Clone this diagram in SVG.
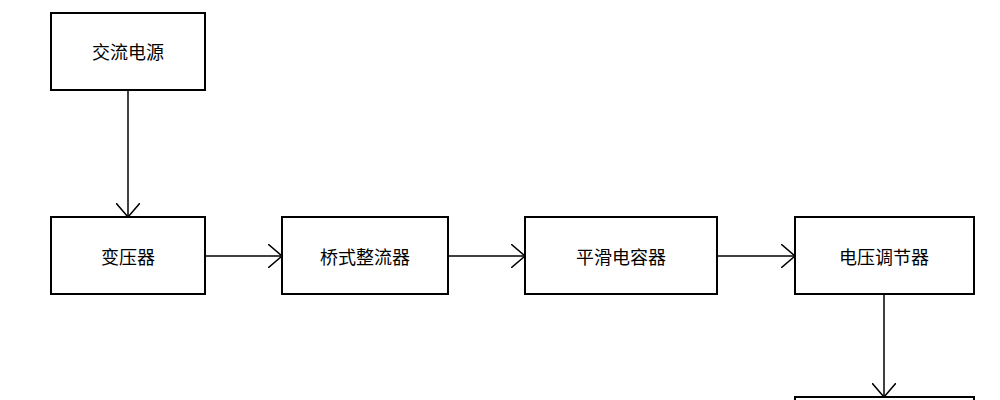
<svg xmlns="http://www.w3.org/2000/svg" width="1000" height="400" viewBox="0 0 1000 400">
<style>
.b{fill:#fff;stroke:#000;stroke-width:2}
.t{font-family:"Noto Sans CJK SC","Liberation Sans",sans-serif;font-size:18px;text-anchor:middle;dominant-baseline:central;fill:#000}
.c{stroke:#000;stroke-width:1.5;fill:none}
</style>
<defs><marker id="a" viewBox="0 0 14 24" refX="14" refY="12" markerWidth="14" markerHeight="24" markerUnits="userSpaceOnUse" orient="auto"><path d="M0,0 L14,12 L0,24" fill="none" stroke="#000" stroke-width="1.5"/></marker></defs>
<rect width="1000" height="400" fill="#fff"/>
<g id="connectors">
<line class="c" x1="128" y1="90" x2="128" y2="217" marker-end="url(#a)"/>
<line class="c" x1="205" y1="256" x2="282" y2="256" marker-end="url(#a)"/>
<line class="c" x1="448" y1="256" x2="525" y2="256" marker-end="url(#a)"/>
<line class="c" x1="717" y1="256" x2="795" y2="256" marker-end="url(#a)"/>
<line class="c" x1="884" y1="294" x2="884" y2="397" marker-end="url(#a)"/>
</g>
<g id="n1"><rect class="b" x="51" y="13" width="154" height="77"/><text class="t" x="128" y="51">交流电源</text></g>
<g id="n2"><rect class="b" x="51" y="217" width="154" height="77"/><text class="t" x="128" y="256">变压器</text></g>
<g id="n3"><rect class="b" x="282" y="217" width="166" height="77"/><text class="t" x="365" y="256">桥式整流器</text></g>
<g id="n4"><rect class="b" x="525" y="217" width="192" height="77"/><text class="t" x="621" y="256">平滑电容器</text></g>
<g id="n5"><rect class="b" x="795" y="217" width="179" height="77"/><text class="t" x="884" y="256">电压调节器</text></g>
<g id="n6"><rect class="b" x="795" y="397" width="179" height="77"/></g>
</svg>
